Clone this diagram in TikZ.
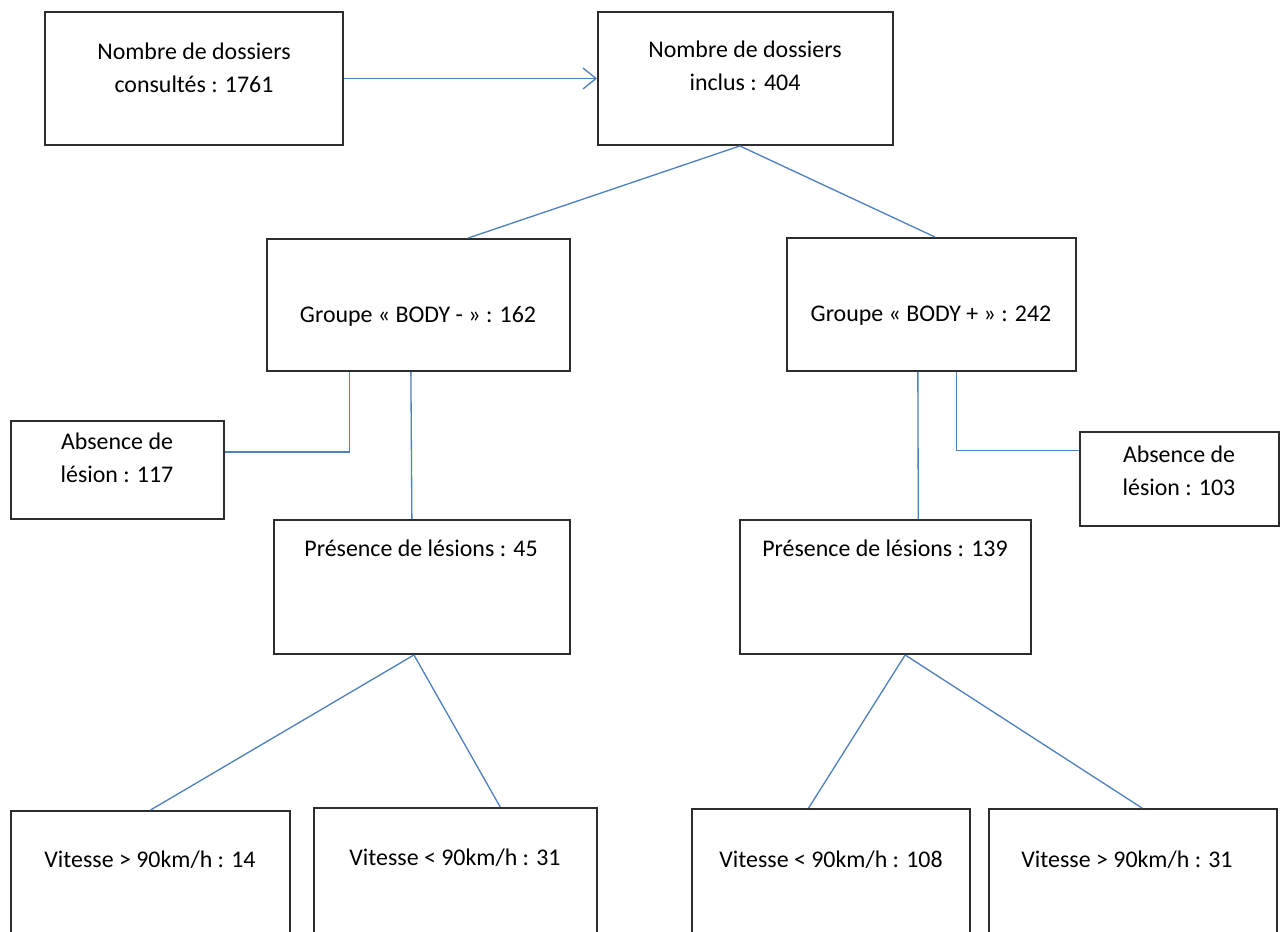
\documentclass[tikz,border=0pt]{standalone}
\usepackage{fontspec}
\setmainfont{Carlito}
\usetikzlibrary{arrows.meta,calc,fit,shadows}
\definecolor{frame}{RGB}{45,45,45}
\definecolor{linkblue}{RGB}{79,129,189}
\tikzset{
  >={Straight Barb[length=2.6mm,width=4.2mm]},
  box/.style={draw=frame,line width=1.1pt,fill=white,inner sep=0pt,
    drop shadow={shadow xshift=0.6pt,shadow yshift=-0.6pt,opacity=0.3}},
  txt/.style={font=\fontsize{13.6pt}{18.8pt}\selectfont,align=center,inner sep=0pt},
  wire/.style={draw=linkblue,line width=0.75pt},
}
\begin{document}
\begin{tikzpicture}[x=0.02cm,y=-0.02cm]
  \useasboundingbox (0,0) rectangle (1287,932);
  \clip (0,0) rectangle (1287,932);
  \fill[white] (0,0) rectangle (1287,932);
  % boxes
  \node[box,fit={(45,12) (343,145)}] (cons) {};
  \node[box,fit={(598,12) (893,145)}] (incl) {};
  \node[box,fit={(267,239) (570,371)}] (bodym) {};
  \node[box,fit={(787,238) (1076,371)}] (bodyp) {};
  \node[box,fit={(11,421) (224,519)}] (abs1) {};
  \node[box,fit={(1080,432) (1279,526)}] (abs2) {};
  \node[box,fit={(274,520) (570,654)}] (pres1) {};
  \node[box,fit={(740,520) (1031,654)}] (pres2) {};
  \node[box,fit={(11,811) (290,970)}] (v14) {};
  \node[box,fit={(314,808) (597,970)}] (v31a) {};
  \node[box,fit={(692,809) (970,970)}] (v108) {};
  \node[box,fit={(989,809) (1277,970)}] (v31b) {};
  % texts
  \node[txt] (t1) at (194,68) {Nombre de dossiers\\consultés : 1761};
  \node[txt] (t2) at (745,66) {Nombre de dossiers\\inclus : 404};
  \node[txt] (t3) at (418,316) {Groupe « BODY - » : 162};
  \node[txt] (t4) at (931,316) {Groupe « BODY + » : 242};
  \node[txt] (t5) at (117,458) {Absence de\\lésion : 117};
  \node[txt] (t6) at (1179,471) {Absence de\\lésion : 103};
  \node[txt] (t7) at (421,548) {Présence de lésions : 45};
  \node[txt] (t8) at (885,548) {Présence de lésions : 139};
  \node[txt] (t9) at (150,860) {Vitesse > 90km/h : 14};
  \node[txt] (t10) at (455,858) {Vitesse < 90km/h : 31};
  \node[txt] (t11) at (831,860) {Vitesse < 90km/h : 108};
  \node[txt] (t12) at (1127,860) {Vitesse > 90km/h : 31};
  % connectors
  \draw[wire,->] (cons.east) -- (incl.west);
  \draw[wire] ($(incl.south west)!0.481!(incl.south east)$) -- ($(bodym.north west)!0.663!(bodym.north east)$);
  \draw[wire] ($(incl.south west)!0.481!(incl.south east)$) -- ($(bodyp.north west)!0.512!(bodyp.north east)$);
  \draw[wire] ($(bodym.south west)!0.274!(bodym.south east)$) |- ($(abs1.north east)!0.32!(abs1.south east)$);
  \draw[wire] ($(bodym.south west)!0.475!(bodym.south east)$) -- ($(pres1.north west)!0.466!(pres1.north east)$);
  \draw[wire] ($(bodyp.south west)!0.585!(bodyp.south east)$) |- ($(abs2.north west)!0.2!(abs2.south west)$);
  \draw[wire] ($(bodyp.south west)!0.453!(bodyp.south east)$) -- ($(pres2.north west)!0.612!(pres2.north east)$);
  \draw[wire] ($(pres1.south west)!0.473!(pres1.south east)$) -- (v14.north);
  \draw[wire] ($(pres1.south west)!0.473!(pres1.south east)$) -- ($(v31a.north west)!0.657!(v31a.north east)$);
  \draw[wire] ($(pres2.south west)!0.567!(pres2.south east)$) -- ($(v108.north west)!0.42!(v108.north east)$);
  \draw[wire] ($(pres2.south west)!0.567!(pres2.south east)$) -- ($(v31b.north west)!0.531!(v31b.north east)$);
\end{tikzpicture}
\end{document}
